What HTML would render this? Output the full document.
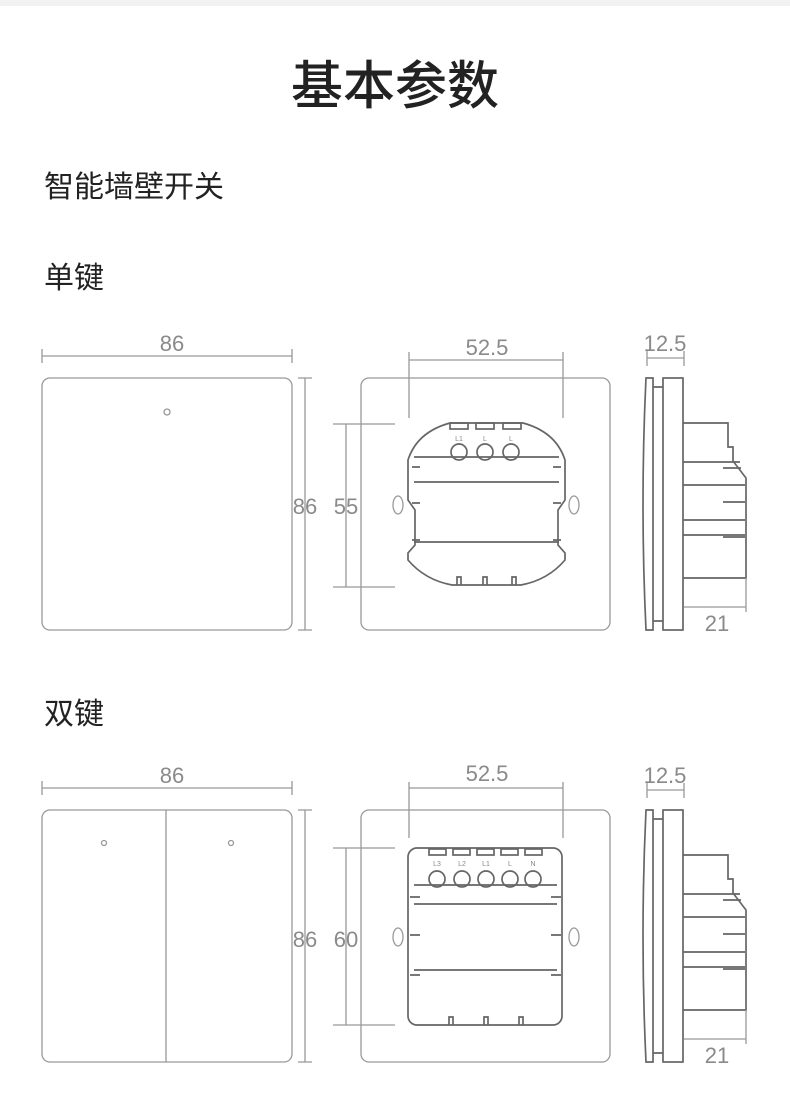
<!DOCTYPE html>
<html><head><meta charset="utf-8"><style>
html,body{margin:0;padding:0;background:#fff}
svg{display:block}
.t{font-family:"Liberation Sans","Noto Sans CJK SC",sans-serif;fill:#222}
.d{font-family:"Liberation Sans","Noto Sans CJK SC",sans-serif;fill:#8a8a8a;font-size:22px}
.l{stroke:#999;stroke-width:1.3;fill:none}
.m{stroke:#666;stroke-width:1.7;fill:none}
.s{font-family:"Liberation Sans",sans-serif;fill:#888;font-size:7px}
</style></head><body>
<svg width="790" height="1103" viewBox="0 0 790 1103" xmlns="http://www.w3.org/2000/svg">
<rect x="0" y="0" width="790" height="6" fill="#f2f2f2"/>
<text class="t" x="395" y="104" font-size="52" text-anchor="middle" font-weight="500">基本参数</text>
<text class="t" x="44" y="197" font-size="30">智能墙壁开关</text>
<text class="t" x="44" y="288" font-size="30">单键</text>
<text class="t" x="44" y="724" font-size="30">双键</text>

<!-- SINGLE -->
<g>
<text class="d" x="172" y="351" text-anchor="middle">86</text>
<path class="l" d="M42 356H292M42 349V363M292 349V363"/>
<rect class="l" x="42" y="378" width="250" height="252" rx="8"/>
<circle class="l" cx="167" cy="412" r="3"/>
<path class="l" d="M305 378V630M298 378H312M298 630H312"/>
<text class="d" x="305" y="514" text-anchor="middle">86</text>
<rect class="l" x="361" y="378" width="249" height="252" rx="8"/>
<text class="d" x="487" y="355" text-anchor="middle">52.5</text>
<path class="l" d="M409 360H563M409 352V418M563 352V418"/>
<path class="l" d="M346 424V587M333 424H395M333 587H395"/>
<text class="d" x="346" y="514" text-anchor="middle">55</text>
<ellipse class="l" cx="398" cy="505" rx="5" ry="9"/>
<ellipse class="l" cx="574" cy="505" rx="5" ry="9"/>
<path class="m" d="M450 423H523Q556 432 565 460V500L558 510V545L565 553V560Q548 580 521 585H452Q425 580 408 560V553L415 545V510L408 500V460Q417 432 450 423Z"/>
<path class="m" d="M414 457H559M414 482H559M414 542H559"/>
<rect class="m" x="450" y="423" width="18" height="6"/><rect class="m" x="476" y="423" width="18" height="6"/><rect class="m" x="503" y="423" width="18" height="6"/>
<text class="s" x="459" y="441" text-anchor="middle">L1</text><text class="s" x="485" y="441" text-anchor="middle">L</text><text class="s" x="511" y="441" text-anchor="middle">L</text>
<circle class="m" cx="459" cy="452" r="8"/><circle class="m" cx="485" cy="452" r="8"/><circle class="m" cx="511" cy="452" r="8"/>
<path class="m" d="M457 585V577H461V585M483 585V577H487V585M512 585V577H516V585"/>
<path class="m" d="M412 467H420M553 467H561M412 503H420M553 503H561M412 540H420M553 540H561"/>
</g>
<g>
<text class="d" x="665" y="351" text-anchor="middle">12.5</text>
<path class="l" d="M647 358H684M647 351V366M684 351V366"/>
<path class="m" d="M646 378H653V630H646Q640 504 646 378Z"/>
<path class="m" d="M653 387H663M653 621H663"/>
<rect class="m" x="663" y="378" width="20" height="252"/>
<path class="m" d="M683 423H728V447H733V461L746 478V578H683M683 462H740M683 485H745M683 520H745M683 535H745"/>
<path class="m" d="M723 468H741M723 502H745M723 537H745"/>
<path class="l" d="M684 607H746M746 578V612"/>
<text class="d" x="717" y="631" text-anchor="middle">21</text>
</g>

<!-- DOUBLE -->
<g>
<text class="d" x="172" y="783" text-anchor="middle">86</text>
<path class="l" d="M42 788H292M42 781V795M292 781V795"/>
<rect class="l" x="42" y="810" width="250" height="252" rx="8"/>
<path class="l" d="M166 810V1062"/>
<circle class="l" cx="104" cy="843" r="2.5"/><circle class="l" cx="231" cy="843" r="2.5"/>
<path class="l" d="M305 810V1062M298 810H312M298 1062H312"/>
<text class="d" x="305" y="947" text-anchor="middle">86</text>
<rect class="l" x="361" y="810" width="249" height="252" rx="8"/>
<text class="d" x="487" y="781" text-anchor="middle">52.5</text>
<path class="l" d="M409 788H563M409 782V838M563 782V838"/>
<path class="l" d="M346 848V1025M333 848H395M333 1025H395"/>
<text class="d" x="346" y="947" text-anchor="middle">60</text>
<ellipse class="l" cx="398" cy="937" rx="5" ry="9"/>
<ellipse class="l" cx="574" cy="937" rx="5" ry="9"/>
<rect class="m" x="408" y="848" width="154" height="177" rx="9"/>
<path class="m" d="M414 885H557M414 904H557M414 970H557"/>
<rect class="m" x="429" y="849" width="17" height="6"/><rect class="m" x="453" y="849" width="17" height="6"/><rect class="m" x="477" y="849" width="17" height="6"/><rect class="m" x="501" y="849" width="17" height="6"/><rect class="m" x="525" y="849" width="17" height="6"/>
<text class="s" x="437" y="866" text-anchor="middle">L3</text><text class="s" x="462" y="866" text-anchor="middle">L2</text><text class="s" x="486" y="866" text-anchor="middle">L1</text><text class="s" x="510" y="866" text-anchor="middle">L</text><text class="s" x="533" y="866" text-anchor="middle">N</text>
<circle class="m" cx="437" cy="879" r="8"/><circle class="m" cx="462" cy="879" r="8"/><circle class="m" cx="486" cy="879" r="8"/><circle class="m" cx="510" cy="879" r="8"/><circle class="m" cx="533" cy="879" r="8"/>
<path class="m" d="M449 1025V1017H453V1025M484 1025V1017H488V1025M519 1025V1017H523V1025"/>
<path class="m" d="M410 897H420M551 897H561M410 935H420M551 935H561M410 975H420M551 975H561"/>
</g>
<g transform="translate(0,432)">
<text class="d" x="665" y="351" text-anchor="middle">12.5</text>
<path class="l" d="M647 358H684M647 351V366M684 351V366"/>
<path class="m" d="M646 378H653V630H646Q640 504 646 378Z"/>
<path class="m" d="M653 387H663M653 621H663"/>
<rect class="m" x="663" y="378" width="20" height="252"/>
<path class="m" d="M683 423H728V447H733V461L746 478V578H683M683 462H740M683 485H745M683 520H745M683 535H745"/>
<path class="m" d="M723 468H741M723 502H745M723 537H745"/>
<path class="l" d="M684 607H746M746 578V612"/>
<text class="d" x="717" y="631" text-anchor="middle">21</text>
</g>
</svg>
</body></html>
